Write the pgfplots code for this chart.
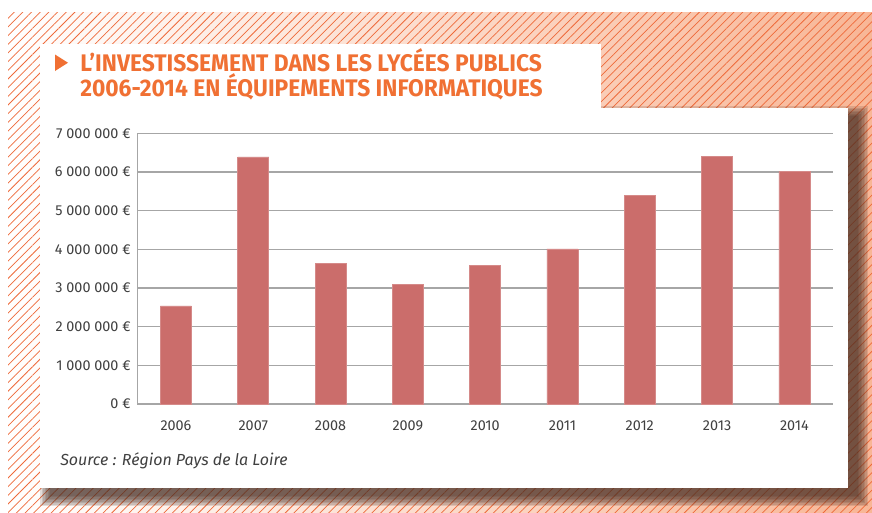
\documentclass[border=0pt]{standalone}
\usepackage{fontspec}
\setmainfont{Fira Sans}
\newfontfamily\titlefont[FakeStretch=0.95]{Fira Sans}
\usepackage{pgfplots}
\pgfplotsset{compat=1.18}
\usetikzlibrary{patterns.meta}

\definecolor{titleorange}{RGB}{240,112,51}
\definecolor{txt}{RGB}{64,64,64}
\definecolor{barred}{RGB}{203,109,107}
\definecolor{gridgray}{RGB}{166,166,166}
\definecolor{hatch}{RGB}{238,106,58}
\definecolor{salmon}{RGB}{248,182,150}
\definecolor{shadowbrown}{RGB}{70,45,35}

\begin{document}
\begin{tikzpicture}[x=0.75pt,y=-0.75pt]
\useasboundingbox (0,0) rectangle (872,512);
\fill[white] (0,0) rectangle (872,512);
% hatched background
\shade[left color=white, right color=salmon] (8,12) rectangle (872,512);
\fill[pattern={Lines[angle=45,distance=4.6pt,line width=0.55pt]}, pattern color=hatch] (8,12) rectangle (872,512);
% soft shadow of the panel
\foreach \r in {10,8.5,7,5.5,4,2.5,1,0} {
  \fill[shadowbrown, opacity=0.15] (50-\r,116-\r) rectangle (858+\r,496+\r);
}
% white panels
\fill[white] (40,44) rectangle (601,108.5);
\fill[white] (40,108) rectangle (848,488);
% title
\fill[titleorange] (55,54.5) -- (55,71) -- (68,62.75) -- cycle;
\node[anchor=base west, inner sep=0, text=titleorange, font=\titlefont\bfseries\fontsize{18}{20}\selectfont] at (80,71.5) {L’INVESTISSEMENT DANS LES LYCÉES PUBLICS};
\node[anchor=base west, inner sep=0, text=titleorange, font=\titlefont\bfseries\fontsize{18}{20}\selectfont] at (80,96.5) {2006-2014 EN ÉQUIPEMENTS INFORMATIQUES};
% source
\node[anchor=base west, inner sep=0, text=txt, font=\itshape\fontsize{12}{14}\selectfont] at (60,465) {Source : Région Pays de la Loire};
\coordinate (axorig) at (137.3,404);

\begin{axis}[
  at={(axorig)}, anchor=south west,
  scale only axis,
  width=521.8pt, height=203pt,
  xmin=-0.5, xmax=8.5,
  ymin=0, ymax=7000000,
  scaled y ticks=false,
  axis x line*=bottom, axis y line*=left,
  axis line style={gridgray, line width=0.8pt, -},
  ymajorgrids, grid style={gridgray, line width=0.8pt},
  major tick length=0pt,
  xtick={0,1,2,3,4,5,6,7,8},
  xticklabels={2006,2007,2008,2009,2010,2011,2012,2013,2014},
  ytick={0,1000000,2000000,3000000,4000000,5000000,6000000,7000000},
  yticklabels={0 €,1 000 000 €,2 000 000 €,3 000 000 €,4 000 000 €,5 000 000 €,6 000 000 €,7 000 000 €},
  tick label style={text=txt, font=\fontsize{10.8}{12}\selectfont},
  xticklabel style={yshift=-9pt},
  yticklabel style={xshift=-1.5pt},
  ybar, bar width=23.25pt,
]
\addplot[fill=barred, draw=barred!80!white, line width=0.4pt] coordinates {
  (0,2540000) (1,6390000) (2,3640000) (3,3090000) (4,3590000)
  (5,4010000) (6,5400000) (7,6410000) (8,6010000)
};
\end{axis}
\end{tikzpicture}
\end{document}
